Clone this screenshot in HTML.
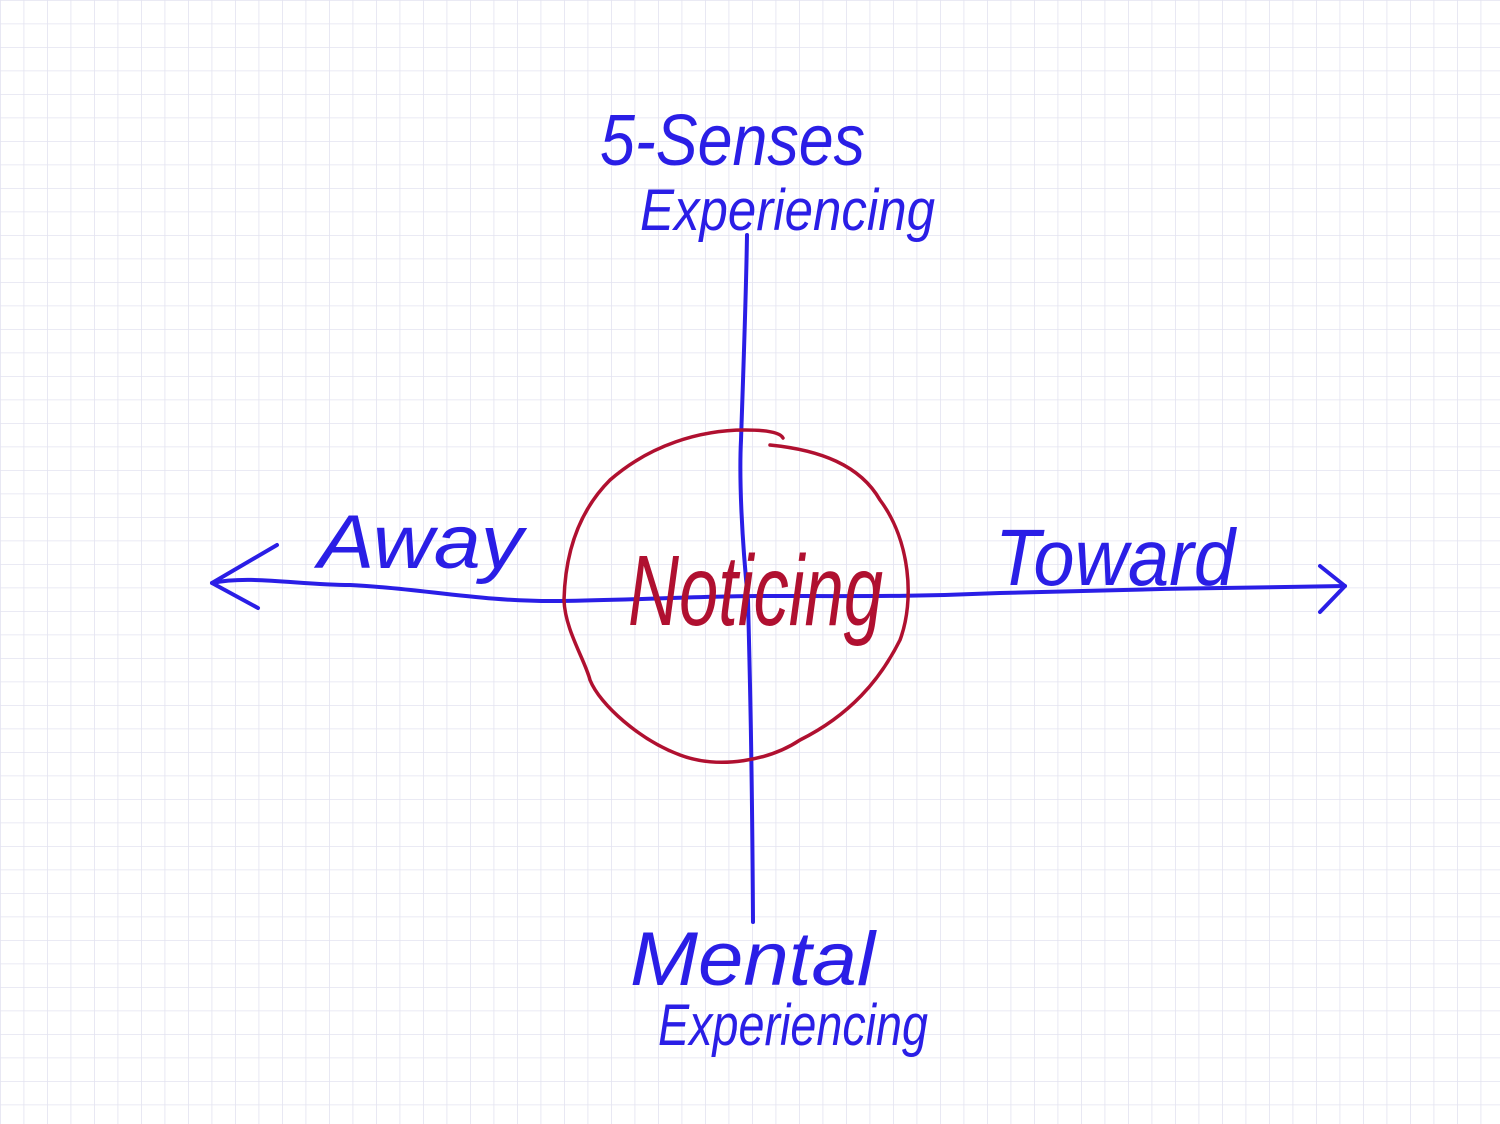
<!DOCTYPE html>
<html><head><style>
html,body{margin:0;padding:0;background:#fff}
svg{display:block}
text{font-family:"Liberation Sans",sans-serif;font-style:italic}
</style></head><body>
<svg width="1500" height="1124" viewBox="0 0 1500 1124" xmlns="http://www.w3.org/2000/svg">
<defs>
<pattern id="g" width="23.5" height="23.5" patternUnits="userSpaceOnUse">
<path d="M0 0H23.5M0 0V23.5" stroke="#e3e3f0" stroke-width="1.6" fill="none"/>
</pattern>
</defs>
<rect width="1500" height="1124" fill="url(#g)"/>
<g fill="none" stroke="#2a1ee6" stroke-width="4" stroke-linecap="round" stroke-linejoin="round">
<path d="M212 583 C250 575 300 585 350 585 C420 588 480 602 560 601 C640 600 700 596 760 596 C850 596 910 597 1000 593 C1100 590 1250 587 1345 586"/>
<path d="M277 545 L212 583 L258 608"/>
<path d="M1320 566 L1345 586 L1320 612"/>
<path d="M747 235 C746 300 743 380 741 440 C739 480 742 540 748 600 C750 680 752 760 753 922"/>
</g>
<path d="M745 430 C700 430 650 445 610 480 C575 515 565 560 564 600 C565 630 585 660 590 680 C600 705 640 740 680 755 C720 770 770 760 800 740 C850 715 880 680 900 640 C915 600 910 540 880 500 C860 465 820 450 770 445 M745 430 C765 430 780 432 783 438" fill="none" stroke="#b01030" stroke-width="3.5" stroke-linecap="round"/>
<g fill="#2a1ee6">
<text x="600" y="165" font-size="72" textLength="265" lengthAdjust="spacingAndGlyphs">5-Senses</text>
<text x="640" y="230" font-size="58" textLength="295" lengthAdjust="spacingAndGlyphs">Experiencing</text>
<text x="318" y="568" font-size="76" textLength="205" lengthAdjust="spacingAndGlyphs">Away</text>
<text x="995" y="585" font-size="80" textLength="240" lengthAdjust="spacingAndGlyphs">Toward</text>
<text x="630" y="985" font-size="76" textLength="245" lengthAdjust="spacingAndGlyphs">Mental</text>
<text x="658" y="1045" font-size="58" textLength="270" lengthAdjust="spacingAndGlyphs">Experiencing</text>
</g>
<text x="628" y="625" font-size="100" fill="#b01030" textLength="255" lengthAdjust="spacingAndGlyphs">Noticing</text>
</svg>
</body></html>
